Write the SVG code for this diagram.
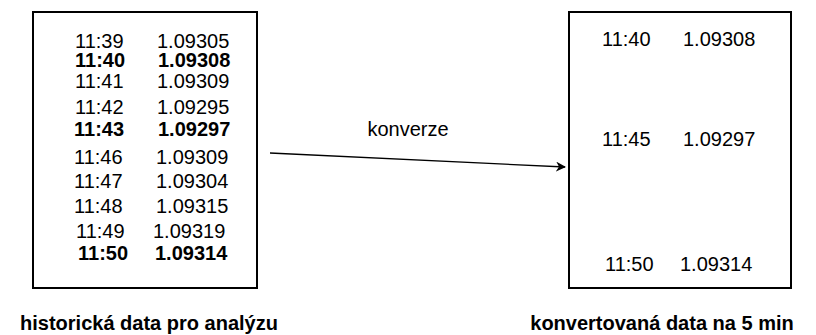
<svg xmlns="http://www.w3.org/2000/svg" width="816" height="335" viewBox="0 0 816 335">
<style>
text{font-family:"Liberation Sans",Arial,sans-serif;font-size:20px;fill:#000}
.b{font-weight:bold}
.box{fill:#fff;stroke:#000;stroke-width:2}
.conn{stroke:#000;stroke-width:1.3;fill:none}
</style>
<defs>
<marker id="ah" viewBox="0 0 10 10" refX="9" refY="5" markerWidth="10" markerHeight="10" markerUnits="userSpaceOnUse" orient="auto">
<path d="M0,0 L10,5 L0,10 L3,5 Z" fill="#000"/>
</marker>
</defs>
<rect width="816" height="335" fill="#fff"/>
<g id="historical">
<rect class="box" x="33" y="12" width="224" height="276"/>
<text x="75" y="48">11:39</text><text x="157" y="48">1.09305</text>
<text class="b" x="75" y="67">11:40</text><text class="b" x="158" y="67">1.09308</text>
<text x="75" y="88">11:41</text><text x="157" y="88">1.09309</text>
<text x="75" y="114">11:42</text><text x="157" y="114">1.09295</text>
<text class="b" x="74" y="136">11:43</text><text class="b" x="158" y="136">1.09297</text>
<text x="74" y="164">11:46</text><text x="156" y="164">1.09309</text>
<text x="74" y="188">11:47</text><text x="156" y="188">1.09304</text>
<text x="74" y="213">11:48</text><text x="156" y="213">1.09315</text>
<text x="76" y="238">11:49</text><text x="153" y="238">1.09319</text>
<text class="b" x="78" y="260">11:50</text><text class="b" x="155" y="260">1.09314</text>
</g>
<g id="converted">
<rect class="box" x="569" y="12" width="222" height="276"/>
<text x="602" y="46">11:40</text><text x="683" y="46">1.09308</text>
<text x="602" y="146">11:45</text><text x="683" y="146">1.09297</text>
<text x="605" y="271">11:50</text><text x="680" y="271">1.09314</text>
</g>
<g id="connectors">
<line class="conn" x1="270" y1="153" x2="565" y2="167" marker-end="url(#ah)"/>
<text x="408" y="136" text-anchor="middle">konverze</text>
</g>
<g id="label-historical">
<text class="b" x="149" y="330" text-anchor="middle">historická data pro analýzu</text>
</g>
<g id="label-converted">
<text class="b" x="662" y="330" text-anchor="middle">konvertovaná data na 5 min</text>
</g>
</svg>
